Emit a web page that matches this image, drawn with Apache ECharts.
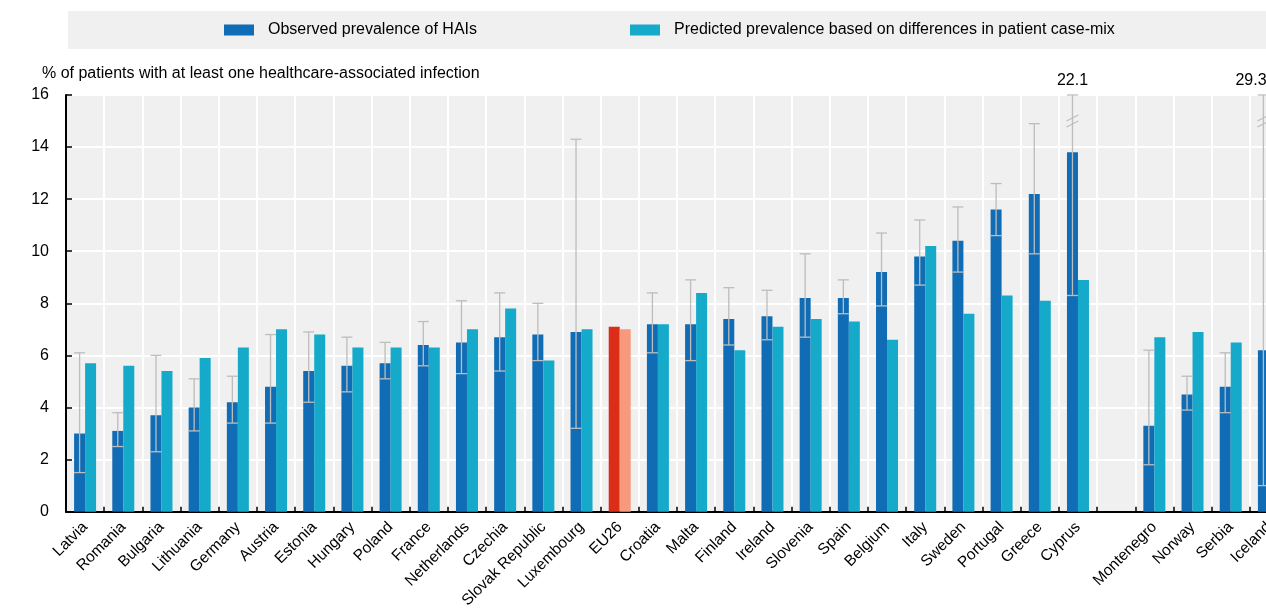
<!DOCTYPE html>
<html>
<head>
<meta charset="utf-8">
<script src="https://cdn.jsdelivr.net/npm/echarts@6/dist/echarts.min.js"></script>
<style>
  html, body { margin: 0; padding: 0; background: #fff; overflow: hidden; }
  /* the plot runs past the right edge of the page, so the last country is cut off */
  #chart { width: 1290px; height: 611px; }
</style>
</head>
<body>
<div id="chart"></div>
<script>
// Countries, with an empty slot separating EU members from the others
const categories = ['Latvia', 'Romania', 'Bulgaria', 'Lithuania', 'Germany', 'Austria', 'Estonia',
  'Hungary', 'Poland', 'France', 'Netherlands', 'Czechia', 'Slovak Republic', 'Luxembourg', 'EU26',
  'Croatia', 'Malta', 'Finland', 'Ireland', 'Slovenia', 'Spain', 'Belgium', 'Italy', 'Sweden',
  'Portugal', 'Greece', 'Cyprus', '', 'Montenegro', 'Norway', 'Serbia', 'Iceland'];

// Observed prevalence of HAIs (%)
const observed = [3.0, 3.1, 3.7, 4.0, 4.2, 4.8, 5.4, 5.6, 5.7, 6.4, 6.5, 6.7, 6.8, 6.9, 7.1,
  7.2, 7.2, 7.4, 7.5, 8.2, 8.2, 9.2, 9.8, 10.4, 11.6, 12.2, 13.8, null, 3.3, 4.5, 4.8, 6.2];

// Predicted prevalence based on patient case-mix (%)
const predicted = [5.7, 5.6, 5.4, 5.9, 6.3, 7.0, 6.8, 6.3, 6.3, 6.3, 7.0, 7.8, 5.8, 7.0, 7.0,
  7.2, 8.4, 6.2, 7.1, 7.4, 7.3, 6.6, 10.2, 7.6, 8.3, 8.1, 8.9, null, 6.7, 6.9, 6.5, null];

// Confidence interval of the observed prevalence
const ciLow = [1.5, 2.5, 2.3, 3.1, 3.4, 3.4, 4.2, 4.6, 5.1, 5.6, 5.3, 5.4, 5.8, 3.2, null,
  6.1, 5.8, 6.4, 6.6, 6.7, 7.6, 7.9, 8.7, 9.2, 10.6, 9.9, 8.3, null, 1.8, 3.9, 3.8, 1.0];
const ciHigh = [6.1, 3.8, 6.0, 5.1, 5.2, 6.8, 6.9, 6.7, 6.5, 7.3, 8.1, 8.4, 8.0, 14.3, null,
  8.4, 8.9, 8.6, 8.5, 9.9, 8.9, 10.7, 11.2, 11.7, 12.6, 14.9, 22.1, null, 6.2, 5.2, 6.1, 29.3];

const yTicks = { min: 0, max: 16, interval: 2 };

const seriesNames = ['Observed prevalence of HAIs', 'Predicted prevalence based on differences in patient case-mix'];

const FONT = "'Liberation Sans', Arial, sans-serif";
const BAR_W = 11;
const C_OBS = '#106cb4', C_PRED = '#15a9ca';
const C_OBS_HI = '#dc2d19', C_PRED_HI = '#f7997c';
const C_ERR = '#bdbdbd';
const VIEW_W = 1266;

const obsData = observed.map((v, i) => categories[i] === 'EU26'
  ? { value: v, itemStyle: { color: C_OBS_HI } } : v);
const predData = predicted.map((v, i) => categories[i] === 'EU26'
  ? { value: v, itemStyle: { color: C_PRED_HI } } : v);
const errData = [];
ciLow.forEach((lo, i) => { if (lo != null && ciHigh[i] != null) errData.push([i, lo, ciHigh[i]]); });

// Error bars centred on the observed bar; values beyond the axis are cut with a break mark
function renderError(params, api) {
  const i = api.value(0), lo = api.value(1), hi = api.value(2);
  const top = Math.min(hi, yTicks.max);
  const pLo = api.coord([i, lo]);
  const pHi = api.coord([i, top]);
  const x = pLo[0] - BAR_W / 2;
  const ls = { stroke: C_ERR, lineWidth: 1.3 };
  const children = [
    { type: 'line', shape: { x1: x, y1: pLo[1], x2: x, y2: pHi[1] }, style: ls },
    { type: 'line', shape: { x1: x - BAR_W / 2, y1: pLo[1], x2: x + BAR_W / 2, y2: pLo[1] }, style: ls },
    { type: 'line', shape: { x1: x - BAR_W / 2, y1: pHi[1], x2: x + BAR_W / 2, y2: pHi[1] }, style: ls }
  ];
  if (hi > yTicks.max) {
    [23, 29].forEach(d => {
      children.push({ type: 'line',
        shape: { x1: x - 6, y1: pHi[1] + d + 3, x2: x + 6, y2: pHi[1] + d - 3 }, style: ls });
    });
    children.push({ type: 'text',
      style: { text: hi.toFixed(1), x: Math.min(x, VIEW_W - 15), y: pHi[1] - 14,
        align: 'center', verticalAlign: 'middle', fill: '#000', font: '16px ' + FONT } });
  }
  return { type: 'group', children };
}

const chart = echarts.init(document.getElementById('chart'), null, { renderer: 'canvas' });

chart.setOption({
  animation: false,
  backgroundColor: '#fff',
  textStyle: { fontFamily: FONT },
  graphic: [{
    type: 'rect', z: -1, silent: true,
    shape: { x: 68, y: 11, width: 1230, height: 38 },
    style: { fill: '#f0f0f0' }
  }],
  title: {
    text: '% of patients with at least one healthcare-associated infection',
    left: 37, top: 61,
    textStyle: { fontFamily: FONT, fontSize: 16, fontWeight: 'normal', color: '#000' }
  },
  legend: [0, 1].map(k => ({
    data: [seriesNames[k]],
    left: k === 0 ? 224 : 630, top: 22, padding: 0,
    itemWidth: 30, itemHeight: 11, icon: 'rect',
    textStyle: { fontFamily: FONT, fontSize: 16, color: '#000', padding: [3, 0, 0, 9] },
    selectedMode: false
  })),
  grid: {
    left: 66, top: 95, right: 2, height: 418,
    show: true, backgroundColor: '#f0f0f0', borderWidth: 0, containLabel: false
  },
  xAxis: {
    type: 'category', data: categories,
    axisLine: { lineStyle: { color: '#000', width: 2 } },
    axisTick: { show: true, inside: true, length: 5, lineStyle: { color: '#000', width: 1.5 } },
    splitLine: { show: true, lineStyle: { color: '#fff', width: 2 } },
    axisLabel: { interval: 0, rotate: 45, margin: 13, color: '#000', fontSize: 15.5, fontFamily: FONT }
  },
  yAxis: {
    type: 'value', min: yTicks.min, max: yTicks.max, interval: yTicks.interval,
    axisLine: { show: true, lineStyle: { color: '#000', width: 2 } },
    axisTick: { show: true, inside: true, length: 6, lineStyle: { color: '#000', width: 1.5 } },
    splitLine: { show: true, lineStyle: { color: '#fff', width: 2 } },
    axisLabel: { color: '#000', fontSize: 16, fontFamily: FONT, margin: 17 }
  },
  series: [
    { name: seriesNames[0], type: 'bar', data: obsData, barWidth: BAR_W, barGap: '0%',
      itemStyle: { color: C_OBS } },
    { name: seriesNames[1], type: 'bar', data: predData, barWidth: BAR_W,
      itemStyle: { color: C_PRED } },
    { name: 'CI', type: 'custom', data: errData, renderItem: renderError, clip: false, z: 5,
      encode: { x: 0, y: [1, 2] } }
  ]
});
</script>
</body>
</html>
